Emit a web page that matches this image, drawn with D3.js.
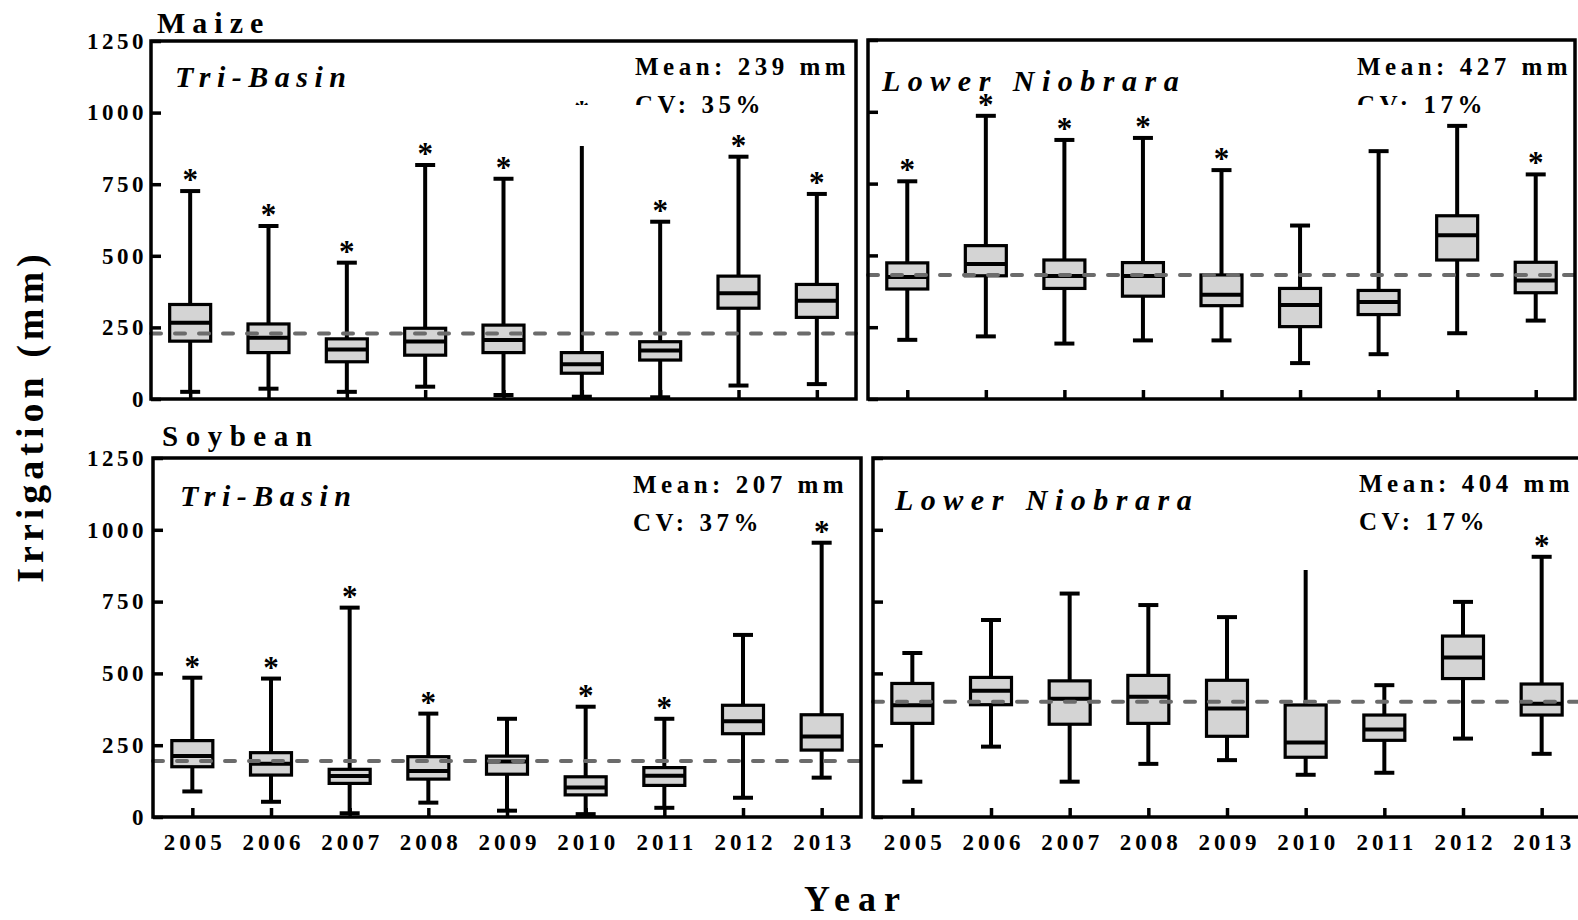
<!DOCTYPE html>
<html>
<head>
<meta charset="utf-8">
<script src="https://cdn.jsdelivr.net/npm/d3@7"></script>
<style>
body {margin: 0; background: #fff;}
svg text {font-family: "Liberation Serif", "Times New Roman", serif; font-weight: bold; fill: #000;}
</style>
</head>
<body>
<svg></svg>
<script>
const years = [2005, 2006, 2007, 2008, 2009, 2010, 2011, 2012, 2013];
const yTickValues = [0, 250, 500, 750, 1000, 1250];

// each row: [whisker low, Q1, median, Q3, whisker high]
const maizeTriBasin = [
	[25, 202, 266, 330, 726],
	[36, 162, 214, 262, 604],
	[25, 130, 173, 210, 476],
	[43, 153, 201, 247, 817],
	[14, 162, 206, 258, 769],
	[8, 90, 121, 162, 965],
	[6, 136, 169, 200, 619],
	[47, 317, 369, 429, 846],
	[52, 285, 343, 400, 716]
];
const maizeTriBasinStars = [2005, 2006, 2007, 2008, 2009, 2010, 2011, 2012, 2013];

const maizeNiobrara = [
	[206, 383, 425, 474, 758],
	[218, 429, 470, 534, 986],
	[193, 385, 428, 484, 902],
	[204, 358, 428, 475, 909],
	[204, 325, 363, 432, 797],
	[125, 252, 327, 385, 604],
	[156, 294, 338, 378, 863],
	[229, 484, 570, 638, 951],
	[273, 370, 413, 476, 782]
];
const maizeNiobraraStars = [2005, 2006, 2007, 2008, 2009, 2011, 2013];

const soyTriBasin = [
	[89, 175, 212, 266, 485],
	[53, 146, 185, 224, 482],
	[13, 117, 143, 166, 729],
	[50, 132, 160, 210, 360],
	[22, 149, 193, 212, 342],
	[10, 77, 103, 140, 384],
	[32, 110, 144, 172, 342],
	[67, 290, 333, 389, 634],
	[137, 233, 280, 356, 955]
];
const soyTriBasinStars = [2005, 2006, 2007, 2008, 2010, 2011, 2013];

const soyNiobrara = [
	[123, 326, 389, 465, 571],
	[245, 391, 440, 486, 686],
	[123, 323, 412, 474, 778],
	[185, 326, 419, 493, 738],
	[198, 281, 378, 476, 696],
	[147, 208, 259, 390, 860],
	[154, 267, 305, 355, 459],
	[273, 482, 555, 630, 749],
	[220, 355, 394, 463, 906]
];
const soyNiobraraStars = [2013];
const soyNiobraraNoCap = [2010];

const meanLines = [229, 432, 195, 401];
const meanTexts = ["Mean: 239 mm", "Mean: 427 mm", "Mean: 207 mm", "Mean: 404 mm"];
const cvTexts = ["CV: 35%", "CV: 17%", "CV: 37%", "CV: 17%"];
const regionNames = ["Tri-Basin", "Lower Niobrara", "Tri-Basin", "Lower Niobrara"];

let panels = [
	{data: maizeTriBasin, stars: maizeTriBasinStars, noCap: [], x0: 151, x1: 856, yTop: 41, yBot: 399,
		yLabels: true, xLabels: false, lx: 175, ly: 87, sx: 635, sy: 75, mask: [565, 105, 93, 41]},
	{data: maizeNiobrara, stars: maizeNiobraraStars, noCap: [], x0: 868, x1: 1575, yTop: 40, yBot: 399,
		yLabels: false, xLabels: false, lx: 882, ly: 91, sx: 1357, sy: 75, mask: [1353, 105, 61, 41]},
	{data: soyTriBasin, stars: soyTriBasinStars, noCap: [], x0: 153, x1: 861, yTop: 458, yBot: 817,
		yLabels: true, xLabels: true, lx: 180, ly: 506, sx: 633, sy: 493, mask: null},
	{data: soyNiobrara, stars: soyNiobraraStars, noCap: soyNiobraraNoCap, x0: 873, x1: 1581, yTop: 458, yBot: 817,
		yLabels: false, xLabels: true, lx: 895, ly: 510, sx: 1359, sy: 492, mask: null}
];

let svg = d3.select("svg").attr("width", 1578).attr("height", 920);

let boxW = 41;
let capW = 20;

panels.forEach(function(p, i) {
	let g = svg.append("g");
	let x = d3.scalePoint().domain(years).range([p.x0, p.x1]).padding(0.5);
	let y = d3.scaleLinear().domain([0, 1250]).range([p.yBot, p.yTop]);

	let rows = years.map(function(yr, j) {
		let v = p.data[j];
		return {year: yr, low: v[0], q1: v[1], med: v[2], q3: v[3], high: v[4]};
	});

	//Boxplots
	let box = g.selectAll(".box")
		.data(rows)
		.enter()
		.append("g")
			.attr("class", "box");
	box.append("line")
		.attr("x1", d => x(d.year)).attr("x2", d => x(d.year))
		.attr("y1", d => y(d.low)).attr("y2", d => y(d.high))
		.attr("stroke", "#000").attr("stroke-width", 4);
	box.append("line")
		.attr("x1", d => x(d.year) - capW/2).attr("x2", d => x(d.year) + capW/2)
		.attr("y1", d => y(d.low)).attr("y2", d => y(d.low))
		.attr("stroke", "#000").attr("stroke-width", 4);
	box.filter(d => p.noCap.indexOf(d.year) < 0)
		.append("line")
		.attr("x1", d => x(d.year) - capW/2).attr("x2", d => x(d.year) + capW/2)
		.attr("y1", d => y(d.high)).attr("y2", d => y(d.high))
		.attr("stroke", "#000").attr("stroke-width", 4);
	box.append("rect")
		.attr("x", d => x(d.year) - boxW/2)
		.attr("width", boxW)
		.attr("y", d => y(d.q3))
		.attr("height", d => y(d.q1) - y(d.q3))
		.attr("fill", "#d4d4d4").attr("stroke", "#000").attr("stroke-width", 3.2);
	box.append("line")
		.attr("x1", d => x(d.year) - boxW/2).attr("x2", d => x(d.year) + boxW/2)
		.attr("y1", d => y(d.med)).attr("y2", d => y(d.med))
		.attr("stroke", "#000").attr("stroke-width", 4);

	//Sternchen
	g.selectAll(".star")
		.data(rows.filter(d => p.stars.indexOf(d.year) >= 0))
		.enter()
		.append("text")
			.attr("class", "star")
			.attr("x", d => x(d.year))
			.attr("y", d => y(d.high) - 1)
			.attr("text-anchor", "middle")
			.style("font-size", "31px")
			.text("*");

	//Mittelwertlinie
	g.append("line")
		.attr("x1", p.x0).attr("x2", p.x1)
		.attr("y1", y(meanLines[i])).attr("y2", y(meanLines[i]))
		.attr("stroke", "#6b6b6b").attr("stroke-width", 4)
		.attr("stroke-dasharray", "10,14").attr("stroke-linecap", "round");

	//Achsen
	let xaxis = d3.axisBottom(x)
		.tickSize(-9)
		.tickPadding(17)
		.tickFormat(p.xLabels ? (d => d) : (() => ""));
	let gx = g.append("g")
		.attr("transform", "translate(0," + p.yBot + ")")
		.call(xaxis);
	let yaxis = d3.axisLeft(y)
		.tickValues(yTickValues)
		.tickSize(-10)
		.tickPadding(p.x0 - 147)
		.tickFormat(p.yLabels ? (d => d) : (() => ""));
	let gy = g.append("g")
		.attr("transform", "translate(" + p.x0 + ",0)")
		.call(yaxis);
	[gx, gy].forEach(function(a) {
		a.select(".domain").remove();
		a.selectAll(".tick line").attr("stroke", "#000").attr("stroke-width", 3.5);
		a.selectAll(".tick text")
			.style("font-size", "23px")
			.style("letter-spacing", "4px");
	});
	gx.selectAll(".tick text").attr("dx", 2);
	gy.selectAll(".tick text").style("letter-spacing", "3.5px");

	//Rahmen
	g.append("rect")
		.attr("x", p.x0).attr("y", p.yTop)
		.attr("width", p.x1 - p.x0).attr("height", p.yBot - p.yTop)
		.attr("fill", "none").attr("stroke", "#000").attr("stroke-width", 3.5);

	//Beschriftungen
	g.append("text")
		.attr("x", p.lx).attr("y", p.ly)
		.style("font-size", "30px").style("font-style", "italic")
		.style("letter-spacing", i % 2 ? "7.5px" : "6.5px")
		.text(regionNames[i]);
	g.append("text")
		.attr("x", p.sx).attr("y", p.sy)
		.style("font-size", "25px").style("letter-spacing", "4.5px")
		.text(meanTexts[i]);
	g.append("text")
		.attr("x", p.sx).attr("y", p.sy + 38)
		.style("font-size", "25px").style("letter-spacing", "4.5px")
		.text(cvTexts[i]);
	if (p.mask) {
		g.append("rect")
			.attr("x", p.mask[0]).attr("y", p.mask[1])
			.attr("width", p.mask[2]).attr("height", p.mask[3])
			.attr("fill", "#fff");
	}
});

svg.append("text")
	.attr("x", 157).attr("y", 33)
	.style("font-size", "30px").style("letter-spacing", "7px")
	.text("Maize");
svg.append("text")
	.attr("x", 162).attr("y", 446)
	.style("font-size", "29px").style("letter-spacing", "7.5px")
	.text("Soybean");
svg.append("text")
	.attr("text-anchor", "middle")
	.attr("x", 856).attr("y", 911)
	.style("font-size", "36px").style("letter-spacing", "8px")
	.text("Year");
svg.append("text")
	.attr("text-anchor", "middle")
	.attr("transform", "translate(43,416)rotate(-90)")
	.style("font-size", "38px").style("letter-spacing", "5px")
	.text("Irrigation (mm)");
</script>
</body>
</html>
